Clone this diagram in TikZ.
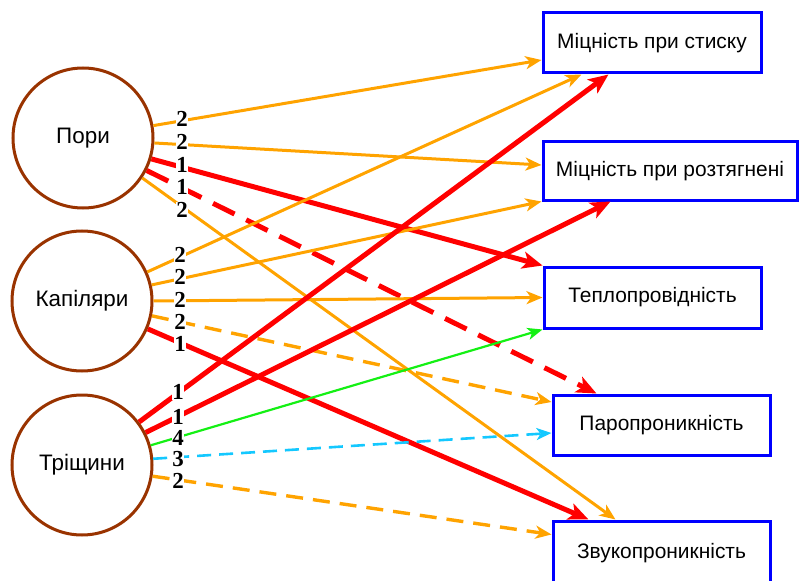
\documentclass[tikz,border=0pt]{standalone}
\usepackage{fontspec}
\setmainfont{Liberation Sans}
\newfontfamily\numfont{Liberation Serif}
\usetikzlibrary{arrows.meta,calc}
\definecolor{myorange}{RGB}{255,163,0}
\definecolor{myred}{RGB}{255,0,0}
\definecolor{mygreen}{RGB}{20,240,20}
\definecolor{mycyan}{RGB}{20,200,255}
\definecolor{mybrown}{RGB}{153,51,0}
\definecolor{myblue}{RGB}{0,0,255}
\tikzset{
  circ/.style={circle, draw=mybrown, line width=3bp, minimum size=140bp, inner sep=0pt,
    font=\fontsize{22.5}{26}\selectfont},
  box/.style={rectangle, draw=myblue, line width=3bp, inner sep=0pt,
    font=\fontsize{21}{25}\selectfont},
  lbl/.style={fill=white, inner sep=0.4bp, font=\numfont\bfseries\fontsize{23}{23}\selectfont},
  org/.style={draw=myorange, line width=3bp, -{Stealth[length=16bp,width=13bp,inset=4.5bp]}},
  orgd/.style={org, line width=3.4bp, dash pattern=on 17bp off 10bp},
  rd/.style={draw=myred, line width=5bp, -{Stealth[length=20bp,width=17bp,inset=5bp]}},
  rdd/.style={rd, dash pattern=on 24bp off 13bp},
  grn/.style={draw=mygreen, line width=2.2bp, -{Stealth[length=15bp,width=12bp,inset=4bp]}},
  cyd/.style={draw=mycyan, line width=2.6bp, dash pattern=on 14bp off 8bp, -{Stealth[length=15bp,width=12bp,inset=4bp]}},
}
\begin{document}
\begin{tikzpicture}[x=1bp,y=-1bp]
\useasboundingbox (0,0) rectangle (801,581);
% source circles
\node[circ] (pori) at (83,138) {Пори};
\node[circ] (kap) at (82,301) {Капіляри};
\node[circ] (tri) at (82,465) {Тріщини};
% property boxes
\node[box, minimum width=218bp, minimum height=60bp] (b1) at (652,43) {Міцність при стиску};
\node[box, minimum width=254bp, minimum height=58bp] (b2) at (670,171) {Міцність при розтягнені};
\node[box, minimum width=217bp, minimum height=61bp] (b3) at (652.5,297.5) {Теплопровідність};
\node[box, minimum width=217bp, minimum height=60bp] (b4) at (661.5,425) {Паропроникність};
\node[box, minimum width=217bp, minimum height=64bp] (b5) at (661.5,553) {Звукопроникність};
% connectors from Пори
\draw[org] (pori.10) -- ([yshift=-17bp]b1.west);
\draw[org] (pori.-4) -- ([yshift=6bp]b2.west);
\draw[rd] (pori.-17) -- (b3.north west);
\draw[rdd] (pori.-27) -- ([xshift=45bp]b4.north west);
\draw[org] (pori.-34) -- ([xshift=64bp]b5.north west);
% connectors from Капіляри
\draw[org] (kap.24) -- ([xshift=40bp]b1.south west);
\draw[org] (kap.13) -- (b2.south west);
\draw[org] (kap.0) -- (b3.west);
\draw[orgd] (kap.-12) -- ([yshift=23bp]b4.west);
\draw[rd] (kap.-23) -- ([xshift=37bp]b5.north west);
% connectors from Тріщини
\draw[rd] (tri.37) -- ([xshift=67bp]b1.south west);
\draw[rd] (tri.27) -- ([xshift=69bp]b2.south west);
\draw[grn] (tri.16) -- (b3.south west);
\draw[cyd] (tri.5) -- ([yshift=-8bp]b4.west);
\draw[orgd] (tri.-9) -- ([yshift=-15bp]b5.north west);
% weight labels
\node[lbl] (lp1) at (182,119) {2};
\node[lbl] (lp2) at (182,142) {2};
\node[lbl] (lp3) at (182,165) {1};
\node[lbl] (lp4) at (182,187) {1};
\node[lbl] (lp5) at (182,210) {2};
\node[lbl] (lk1) at (180,255) {2};
\node[lbl] (lk2) at (180,277) {2};
\node[lbl] (lk3) at (180,300) {2};
\node[lbl] (lk4) at (180,322) {2};
\node[lbl] (lk5) at (180,344) {1};
\node[lbl] (lt1) at (178,392) {1};
\node[lbl] (lt2) at (178,417) {1};
\node[lbl] (lt3) at (178,438) {4};
\node[lbl] (lt4) at (178,459) {3};
\node[lbl] (lt5) at (178,481) {2};
\end{tikzpicture}
\end{document}
